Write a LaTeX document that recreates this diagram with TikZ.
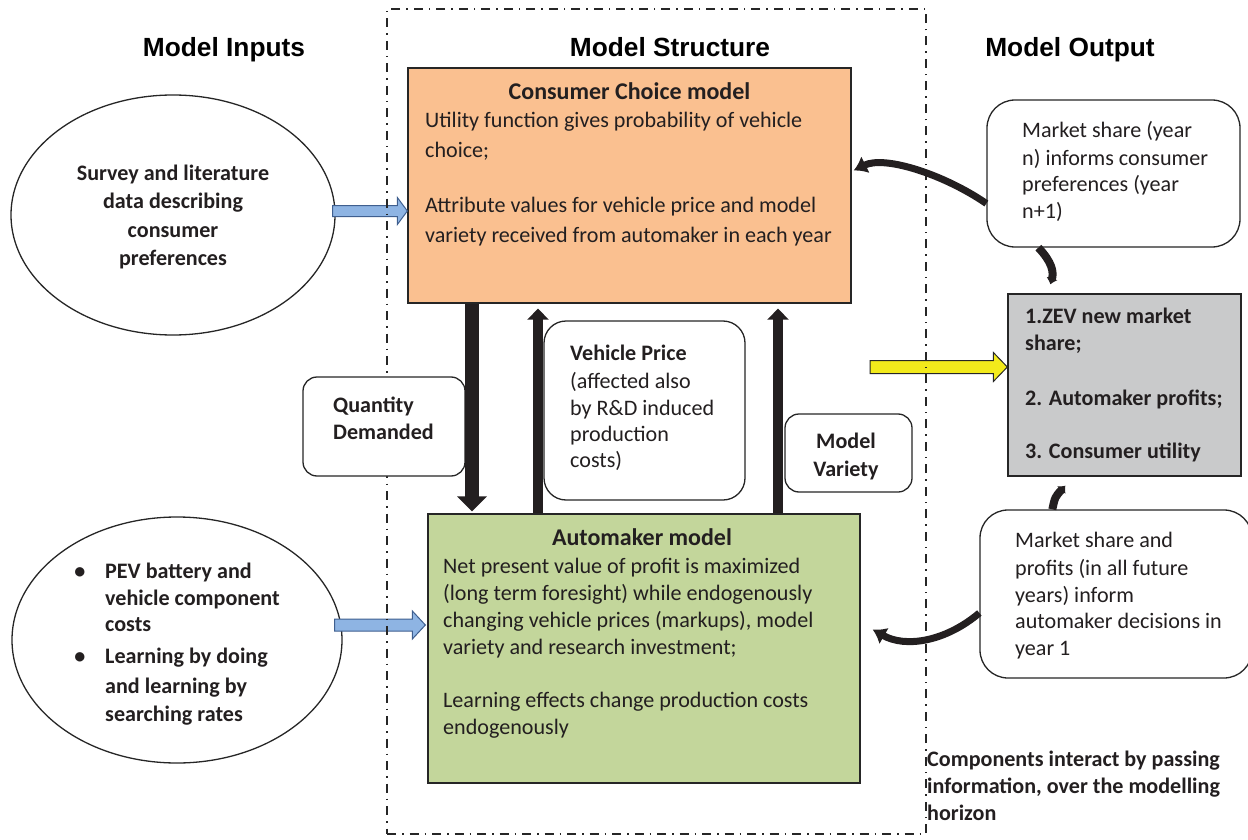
\documentclass[tikz,border=0pt]{standalone}
\usepackage{fontspec}
\setmainfont{Carlito}
\newfontfamily\headfont{Liberation Sans}
\usetikzlibrary{shapes.geometric,arrows.meta,calc}
\definecolor{orangefill}{HTML}{FAC090}
\definecolor{greenfill}{HTML}{C3D69B}
\definecolor{greyfill}{HTML}{C9CACB}
\definecolor{bluefill}{HTML}{8EB4E3}
\definecolor{blueline}{HTML}{3F5F8F}
\definecolor{yellowfill}{HTML}{F2EA1B}
\definecolor{ink}{HTML}{231F20}
\definecolor{edge}{HTML}{262626}
\newcommand\bodyf{\fontsize{22.1}{26}\selectfont}
\newcommand\titlef{\fontsize{24}{28}\selectfont\bfseries}
\newcommand\headf{\headfont\bfseries\fontsize{26.3}{30}\selectfont}
\newcommand\blockarr[6]{%
  \draw[#1] let \p1=(#2), \p2=(#3) in
    (\x1,\y1+#4) -- (\x2-#6,\y1+#4) -- (\x2-#6,\y1+#5) -- (\x2,\y1) --
    (\x2-#6,\y1-#5) -- (\x2-#6,\y1-#4) -- (\x1,\y1-#4) -- cycle;}
\begin{document}
\begin{tikzpicture}[x=1pt,y=-1pt,
  txt/.style={anchor=base west, inner sep=0pt, font=\bodyf, text=ink},
  btxt/.style={anchor=base west, inner sep=0pt, font=\bodyf\bfseries, text=ink},
  ctxt/.style={anchor=base, inner sep=0pt, font=\bodyf\bfseries, text=ink},
  ttl/.style={anchor=base, inner sep=0pt, font=\titlef, text=ink},
  head/.style={anchor=base, inner sep=0pt, font=\headf, text=black},
  boxshape/.style={rectangle, draw=edge, line width=1.3pt, inner sep=0pt},
  rbox/.style={boxshape, fill=white, rounded corners=#1},
  oval/.style={ellipse, draw=edge, line width=1.3pt, inner sep=0pt, fill=white},
  bluearr/.style={fill=bluefill, draw=blueline, line width=1pt},
  yelarr/.style={fill=yellowfill, draw=edge, line width=1pt},
  frame/.style={draw=edge, line width=1.4pt, dash pattern=on 9pt off 6pt on 1.5pt off 6pt},
  curv/.style={draw=ink, line width=7pt, -{Latex[length=13pt,width=19pt]}},
  curvs/.style={draw=ink, line width=8pt, -{Latex[length=6pt,width=12pt]}},
  bigdown/.style={draw=ink, line width=14pt, -{Triangle[width=29pt,length=15pt]}},
  up/.style={draw=ink, line width=10pt, -{Triangle[width=21pt,length=11pt]}}
]
\useasboundingbox (0,0) rectangle (1248,840);

% headings
\node[head] (hin) at (224,57) {Model Inputs};
\node[head] (hst) at (670,57) {Model Structure};
\node[head] (hout) at (1070,57) {Model Output};

% ellipses
\node[oval, minimum width=324pt, minimum height=240pt] (e1) at (173,215) {};
\node[oval, minimum width=330pt, minimum height=246pt] (e2) at (177,640) {};

% main boxes
\path (629.5,185.5) coordinate (ccc) (644,648.5) coordinate (amc)
      (1124.5,385) coordinate (grc);
\node[boxshape, fill=orangefill, minimum width=443pt, minimum height=235pt] (cc) at (ccc) {};
\node[boxshape, fill=greenfill, minimum width=432pt, minimum height=269pt] (am) at (amc) {};
\node[boxshape, fill=greyfill, minimum width=233pt, minimum height=182pt] (gr) at (grc) {};

% block arrows
\coordinate (b1s) at ($(e1.east)+(-3,-4)$);
\coordinate (b1e) at (cc.west |- b1s);
\blockarr{bluearr}{b1s}{b1e}{5.5}{13.5}{10}
\coordinate (b2s) at ($(e2.east)+(-8,-15)$);
\coordinate (b2e) at ($(am.west |- b2s)+(-2,0)$);
\blockarr{bluearr}{b2s}{b2e}{6}{14}{13}
\coordinate (ys) at (870,367);
\coordinate (ye) at (gr.west |- ys);
\blockarr{yelarr}{ys}{ye}{6.5}{14.5}{14}

% dash-dot frame
\node[frame, rectangle, inner sep=0pt, minimum width=539pt, minimum height=825pt] (fr) at (656.5,421.5) {};

% small rounded boxes
\node[rbox=14pt, minimum width=162pt, minimum height=99pt] (qd) at (384,426.5) {};
\node[rbox=22pt, minimum width=201pt, minimum height=179pt] (vp) at (644.5,410.5) {};
\node[rbox=14pt, minimum width=127pt, minimum height=78pt] (mv) at (848.5,453) {};
\node[rbox=28pt, minimum width=253pt, minimum height=147pt] (ms1) at (1113.5,173.5) {};
\node[rbox=28pt, minimum width=272pt, minimum height=168pt] (ms2) at (1116,594) {};

% vertical arrows
\coordinate (dx) at (472,0);
\coordinate (ux1) at (538,0);
\coordinate (ux2) at (778,0);
\draw[bigdown, shorten >=2pt] (cc.south -| dx) -- (am.north -| dx);
\draw[up, shorten >=5pt] (am.north -| ux1) -- (cc.south -| ux1);
\draw[up, shorten >=5pt] (am.north -| ux2) -- (cc.south -| ux2);

% curved arrows
\draw[curv] ($(ms1.west)+(0,30)$) .. controls (945,175) and (885,155) .. ($(cc.east)+(2,-15)$);
\draw[curvs] ($(ms1.south west)+(52,0)$) .. controls (1052,262) and (1054,272) .. ($(gr.north west)+(43,-9)$);
\draw[curvs] ($(ms2.north west)+(73,0)$) .. controls (1055,497) .. ($(gr.south west)+(58,9)$);
\draw[curv] ($(ms2.west)+(0,19)$) .. controls (945,642) and (905,648) .. ($(am.east)+(12,-19)$);

% texts: consumer choice
\node[ttl] (cctitle) at (629.5,100) {Consumer Choice model};
\foreach \y/\s [count=\i] in {128/Utility function gives probability of vehicle,158/choice;,212/Attribute values for vehicle price and model,242/variety received from automaker in each year}
  \node[txt] (cct\i) at (425,\y) {\s};

% automaker
\node[ttl] (amtitle) at (642,545) {Automaker model};
\foreach \y/\s [count=\i] in {573/Net present value of profit is maximized,600/(long term foresight) while endogenously,627/{changing vehicle prices (markups), model},654/variety and research investment;,707/Learning effects change production costs,734/endogenously}
  \node[txt] (amt\i) at (443,\y) {\s};

% ellipse 1
\foreach \y/\s [count=\i] in {180/Survey and literature,208/data describing,237/consumer,265/preferences}
  \node[ctxt] (e1t\i) at (173,\y) {\s};

% ellipse 2
\node[ctxt] (bul1) at (80,578) {•};
\node[ctxt] (bul2) at (80,663) {•};
\foreach \y/\s [count=\i] in {578/PEV battery and,605/vehicle component,631/costs,663/Learning by doing,693/and learning by,721/searching rates}
  \node[btxt] (e2t\i) at (105,\y) {\s};

% quantity demanded
\node[btxt] (qd1) at (333,412) {Quantity};
\node[btxt] (qd2) at (333,439) {Demanded};

% vehicle price
\node[btxt] (vp1) at (570,360) {Vehicle Price};
\foreach \y/\s [count=\i] in {388/(affected also,415/by R\&D induced,441/production,467/costs)}
  \node[txt] (vpt\i) at (570,\y) {\s};

% model variety
\node[ctxt] (mv1) at (846,448) {Model};
\node[ctxt] (mv2) at (846,476) {Variety};

% market share 1
\foreach \y/\s [count=\i] in {138/Market share (year,165/n) informs consumer,192/preferences (year,218/n+1)}
  \node[txt] (m1t\i) at (1022,\y) {\s};

% outputs
\foreach \y/\s [count=\i] in {323/1.ZEV new market,350/share;,405/2. Automaker profits;,458/3. Consumer utility}
  \node[btxt] (grt\i) at (1025,\y) {\s};

% market share 2
\foreach \y/\s [count=\i] in {547/Market share and,575/profits (in all future,602/years) inform,628/automaker decisions in,655/year 1}
  \node[txt] (m2t\i) at (1015,\y) {\s};

% note
\foreach \y/\s [count=\i] in {766/Components interact by passing,793/{information, over the modelling},820/horizon}
  \node[btxt] (nt\i) at (927,\y) {\s};
\end{tikzpicture}
\end{document}
